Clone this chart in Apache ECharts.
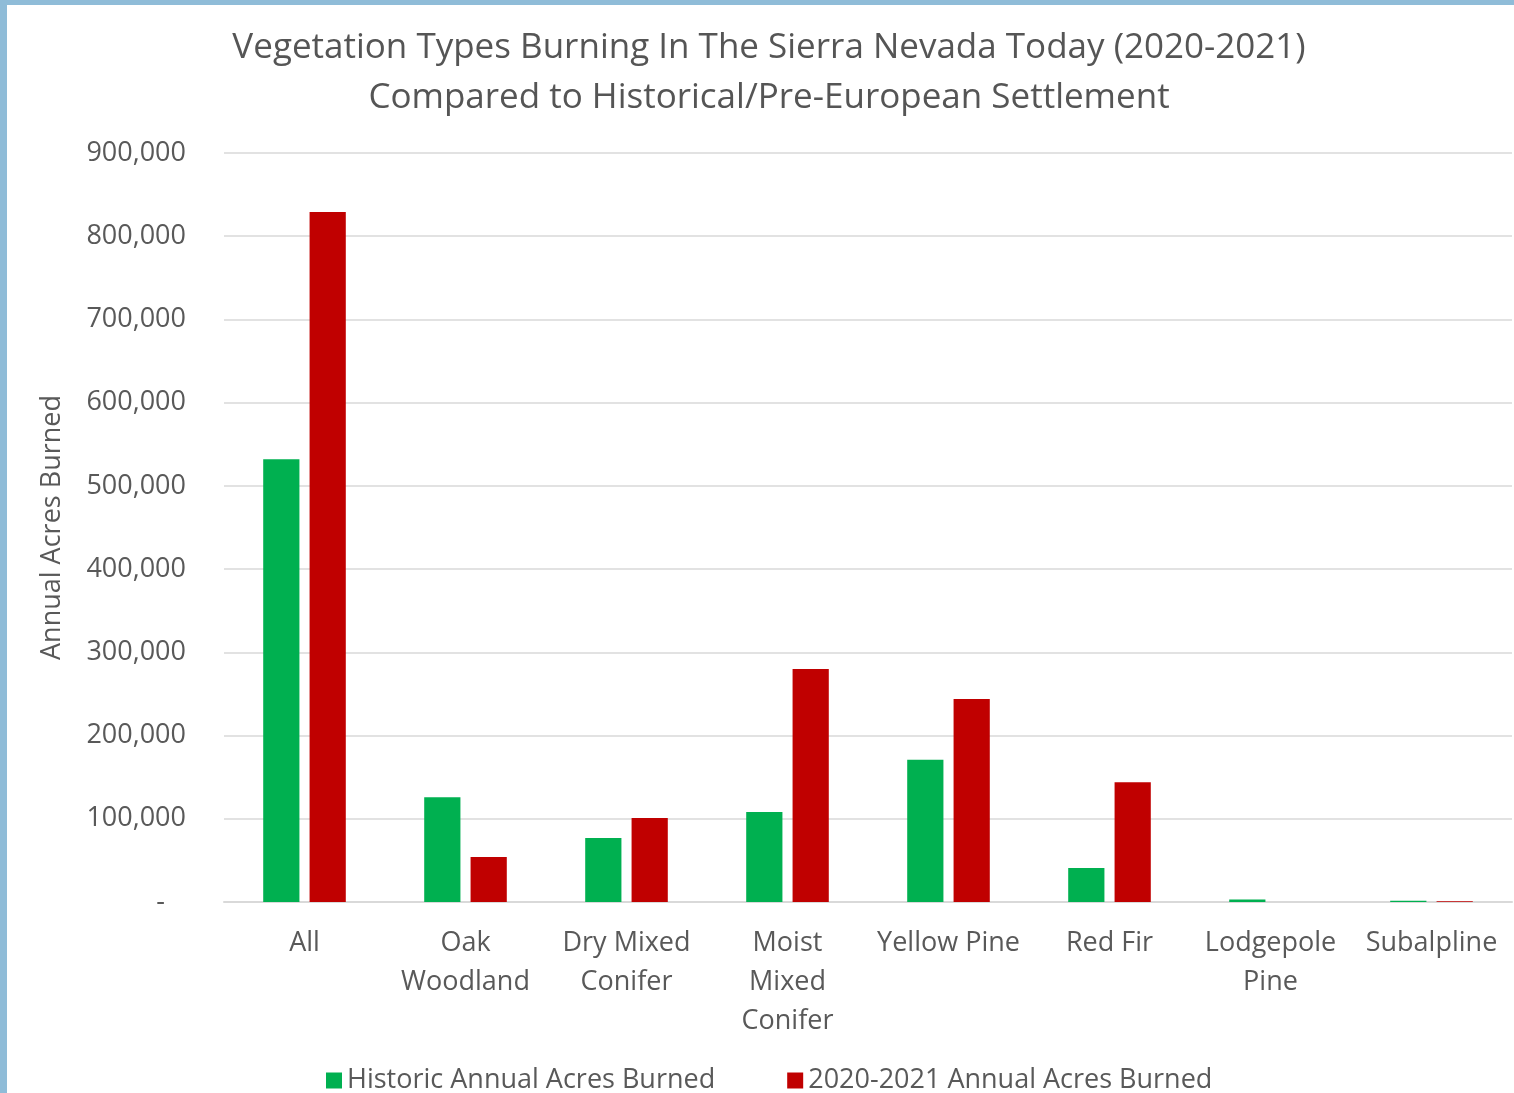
<!DOCTYPE html>
<html>
<head>
<meta charset="utf-8">
<script src="https://cdn.jsdelivr.net/npm/echarts@6/dist/echarts.min.js"></script>
<style>
  html, body { margin: 0; padding: 0; }
  body { width: 1514px; height: 1093px; background: #8fbcd8; position: relative; overflow: hidden; }
  #chart { position: absolute; left: 7px; top: 5px; width: 1507px; height: 1088px; background: #fff; }
</style>
</head>
<body>
<div id="chart"></div>
<script>
// 植被类型
var categories = ['All', 'Oak\nWoodland', 'Dry Mixed\nConifer', 'Moist\nMixed\nConifer',
  'Yellow Pine', 'Red Fir', 'Lodgepole\nPine', 'Subalpline'];
// 历史年均燃烧面积
var historic = [532000, 126000, 77000, 108000, 171000, 41000, 3000, 1500];
// 2020-2021 年均燃烧面积
var recent = [829000, 54000, 101000, 280000, 244000, 144000, 0, 800];
var yTicks = [0, 100000, 200000, 300000, 400000, 500000, 600000, 700000, 800000, 900000];

var chart = echarts.init(document.getElementById('chart'));
var font = 'Open Sans';
var option = {
  title: {
    text: 'Vegetation Types Burning In The Sierra Nevada Today (2020-2021)\nCompared to Historical/Pre-European Settlement',
    left: 757,
    textAlign: 'center',
    top: 13,
    textStyle: { fontFamily: font, fontSize: 35, fontWeight: 'normal', color: '#555555', lineHeight: 50 }
  },
  legend: {
    bottom: -6,
    left: 314,
    itemWidth: 16,
    itemHeight: 16,
    itemGap: 72,
    icon: 'rect',
    textStyle: { fontFamily: font, fontSize: 27, color: '#595959' }
  },
  grid: { left: 217, right: 2, top: 148, bottom: 191 },
  xAxis: {
    type: 'category',
    data: categories,
    axisLine: { show: true, lineStyle: { color: '#d9d9d9', width: 2 } },
    axisTick: { show: false },
    axisLabel: { fontFamily: font, fontSize: 27, color: '#595959', lineHeight: 39, margin: 22, interval: 0 }
  },
  yAxis: {
    type: 'value',
    min: yTicks[0],
    max: yTicks[yTicks.length - 1],
    interval: 100000,
    name: 'Annual Acres Burned',
    nameLocation: 'middle',
    nameGap: 158,
    nameTextStyle: { fontFamily: font, fontSize: 27, color: '#595959' },
    axisLine: { show: false },
    axisTick: { show: false },
    splitLine: { lineStyle: { color: '#d9d9d9', width: 1.5 } },
    axisLabel: {
      fontFamily: font, fontSize: 27, color: '#595959', margin: 38,
      formatter: function (v) { return v === 0 ? '-   ' : v.toLocaleString('en-US'); }
    }
  },
  series: [
    {
      name: 'Historic Annual Acres Burned',
      type: 'bar',
      data: historic,
      barWidth: '22.5%',
      barGap: '28%',
      itemStyle: { color: '#00b050' }
    },
    {
      name: '2020-2021 Annual Acres Burned',
      type: 'bar',
      data: recent,
      barWidth: '22.5%',
      barGap: '28%',
      itemStyle: { color: '#c00000' }
    }
  ]
};
chart.setOption(option);
</script>
</body>
</html>
